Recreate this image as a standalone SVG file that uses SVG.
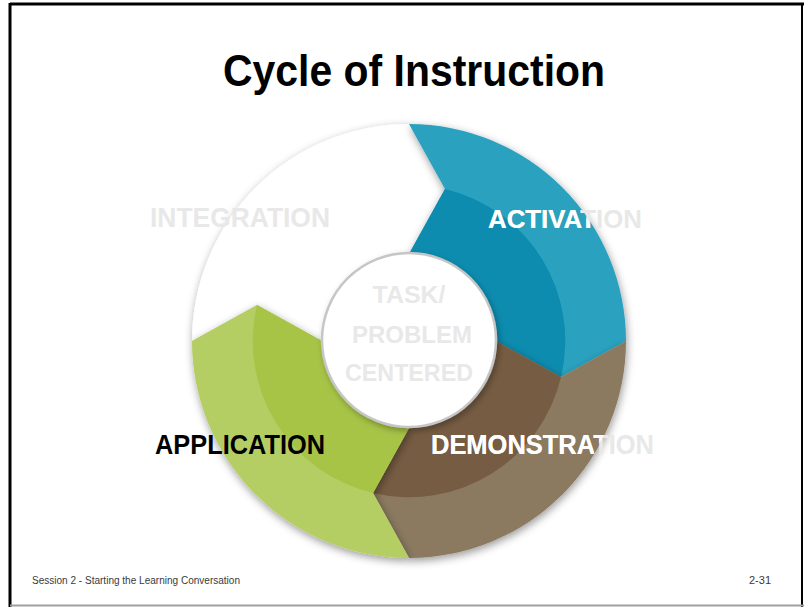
<svg xmlns="http://www.w3.org/2000/svg" width="804" height="607" viewBox="0 0 804 607">
  <style>
    .lbl { font-family: "Liberation Sans", Arial, sans-serif; font-weight: bold; }
    .ghost { fill: #e8e8e8; }
    .foot { font-family: "Liberation Sans", Arial, sans-serif; font-size: 10px; fill: #3a3a3a; }
  </style>
  <defs>
    <filter id="shadow" x="-20%" y="-20%" width="140%" height="140%">
      <feGaussianBlur in="SourceAlpha" stdDeviation="4"/>
      <feOffset dx="1" dy="3" result="b"/>
      <feFlood flood-color="#000" flood-opacity="0.4"/>
      <feComposite in2="b" operator="in"/>
      <feMerge><feMergeNode/><feMergeNode in="SourceGraphic"/></feMerge>
    </filter>
    <filter id="holeShadow" x="-30%" y="-30%" width="160%" height="160%">
      <feGaussianBlur in="SourceAlpha" stdDeviation="3"/>
      <feOffset dx="2" dy="3" result="b"/>
      <feFlood flood-color="#000" flood-opacity="0.3"/>
      <feComposite in2="b" operator="in"/>
      <feMerge><feMergeNode/><feMergeNode in="SourceGraphic"/></feMerge>
    </filter>
    <clipPath id="ringClip"><circle cx="409" cy="341" r="216"/></clipPath>
  </defs>

  <rect x="0" y="0" width="804" height="607" fill="#ffffff"/>
  <!-- slide frame -->
  <g id="frame">
    <line x1="10" y1="4" x2="804" y2="4" stroke="#000" stroke-width="3"/>
    <line x1="10" y1="3" x2="10" y2="607" stroke="#000" stroke-width="3"/>
    <line x1="802" y1="3" x2="802" y2="607" stroke="#000" stroke-width="2"/>
    <line x1="10" y1="605.5" x2="804" y2="605.5" stroke="#a0a0a0" stroke-width="2"/>
  </g>

  <g id="title">
    <text class="lbl" x="223" y="86" font-size="44" textLength="382" lengthAdjust="spacingAndGlyphs" fill="#000">Cycle of Instruction</text>
  </g>

  <g id="ring">
    <g id="integration" filter="url(#shadow)">
      <path d="M192,341 A217,217 0 0,1 409,124 L445,189 L409,254 A87,87 0 0,0 322,341 L257,305 Z" fill="#ffffff"/>
    </g>
    <g id="activation" filter="url(#shadow)">
      <path d="M409,124 A217,217 0 0,1 626,341 L561,377 L496,341 A87,87 0 0,0 409,254 L445,189 Z" fill="#2aa2bf"/>
      <path d="M409,254 L445,189 A156,156 0 0,1 561,377 L496,341 A87,87 0 0,0 409,254 Z" fill="#0b8caf"/>
    </g>
    <g id="demonstration" filter="url(#shadow)">
      <path d="M626,341 A217,217 0 0,1 409,558 L373,493 L409,428 A87,87 0 0,0 496,341 L561,377 Z" fill="#8b7a60"/>
      <path d="M496,341 L561,377 A156,156 0 0,1 373,493 L409,428 A87,87 0 0,0 496,341 Z" fill="#765c43"/>
    </g>
    <g id="application" filter="url(#shadow)">
      <path d="M409,558 A217,217 0 0,1 192,341 L257,305 L322,341 A87,87 0 0,0 409,428 L373,493 Z" fill="#b5ce63"/>
      <path d="M409,428 L373,493 A156,156 0 0,1 257,305 L322,341 A87,87 0 0,0 409,428 Z" fill="#a8c446"/>
    </g>
    <g id="center" filter="url(#holeShadow)">
      <circle cx="409" cy="340" r="87" fill="#ffffff" stroke="#c6c6c6" stroke-width="2.5"/>
    </g>
  </g>

  <g id="labels">
    <text class="lbl ghost" x="150" y="227" font-size="28" textLength="180" lengthAdjust="spacingAndGlyphs">INTEGRATION</text>
    <text class="lbl ghost" x="488" y="228" font-size="26" textLength="154" lengthAdjust="spacingAndGlyphs">ACTIVATION</text>
    <text class="lbl" x="488" y="228" font-size="26" textLength="154" lengthAdjust="spacingAndGlyphs" fill="#ffffff" clip-path="url(#ringClip)">ACTIVATION</text>
    <text class="lbl ghost" x="431" y="454" font-size="27" textLength="223" lengthAdjust="spacingAndGlyphs">DEMONSTRATION</text>
    <text class="lbl" x="431" y="454" font-size="27" textLength="223" lengthAdjust="spacingAndGlyphs" fill="#ffffff" clip-path="url(#ringClip)">DEMONSTRATION</text>
    <text class="lbl" x="155" y="454" font-size="28" textLength="170" lengthAdjust="spacingAndGlyphs" fill="#000000">APPLICATION</text>
    <g class="lbl ghost" font-size="24" text-anchor="middle">
      <text x="409" y="303" textLength="73" lengthAdjust="spacingAndGlyphs">TASK/</text>
      <text x="412" y="343" textLength="120" lengthAdjust="spacingAndGlyphs">PROBLEM</text>
      <text x="409" y="381" textLength="128" lengthAdjust="spacingAndGlyphs">CENTERED</text>
    </g>
  </g>

  <g id="footer">
    <text class="foot" x="32" y="584" textLength="208" lengthAdjust="spacingAndGlyphs">Session 2 - Starting the Learning Conversation</text>
    <text class="foot" x="749" y="584" textLength="22" lengthAdjust="spacingAndGlyphs">2-31</text>
  </g>
</svg>
